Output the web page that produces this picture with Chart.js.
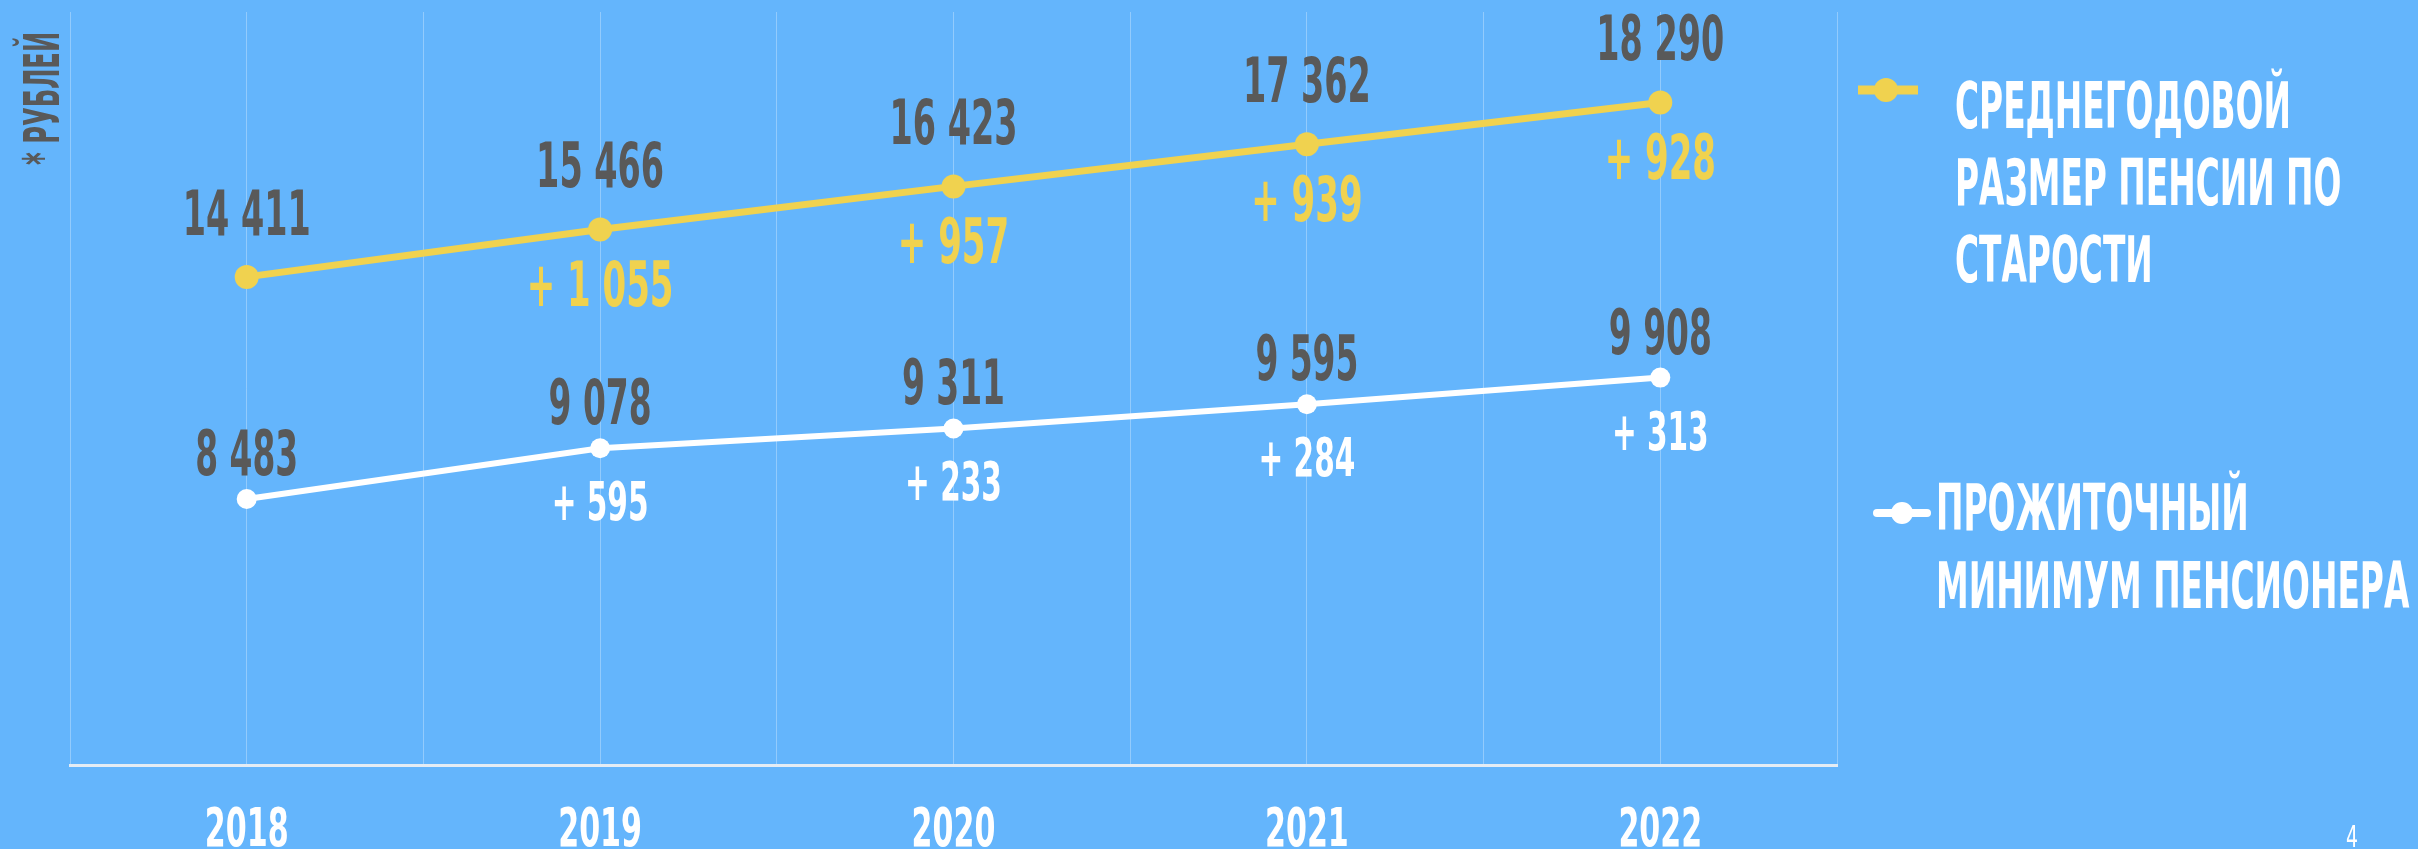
<!DOCTYPE html>
<html lang="ru">
<head>
    <meta charset="UTF-8">
    <title>Пенсия и прожиточный минимум 2018-2022</title>
    <style>
        html, body {
            margin: 0;
            padding: 0;
            background: #64B5FC;
            overflow: hidden;
        }
        #chart-container {
            width: 2418px;
            height: 849px;
        }
    </style>
    <script src="https://cdn.jsdelivr.net/npm/chart.js"></script>
</head>
<body>
    <div id="chart-container">
        <canvas id="pensionChart" width="2418" height="849"></canvas>
    </div>

    <script>
        // Data
        const years = ['2018', '2019', '2020', '2021', '2022'];
        const pensionValues = [14411, 15466, 16423, 17362, 18290];
        const pensionChanges = [null, 1055, 957, 939, 928];
        const minimumValues = [8483, 9078, 9311, 9595, 9908];
        const minimumChanges = [null, 595, 233, 284, 313];
        const pensionLegend = ['СРЕДНЕГОДОВОЙ', 'РАЗМЕР ПЕНСИИ ПО', 'СТАРОСТИ'];
        const minimumLegend = ['ПРОЖИТОЧНЫЙ', 'МИНИМУМ ПЕНСИОНЕРА'];
        const unitLabel = '* РУБЛЕЙ';
        const pageNumber = '4';

        const YELLOW = '#F0D24F';
        const WHITE = '#FFFFFF';
        const GREY = '#595959';
        const BG = '#64B5FC';
        const FONT = '"DejaVu Sans Condensed", sans-serif';

        // 14411 -> "14 411"
        function fmt(v) {
            return String(v).replace(/\B(?=(\d{3})+(?!\d))/g, ' ');
        }

        // condensed text: squeeze the font horizontally to look like the slide's display face
        function text(ctx, str, x, y, size, color, sx, align, weight) {
            ctx.save();
            ctx.translate(x, y);
            ctx.scale(sx, 1);
            ctx.font = (weight || 'bold') + ' ' + size + 'px ' + FONT;
            ctx.fillStyle = color;
            ctx.textAlign = align || 'center';
            ctx.textBaseline = 'alphabetic';
            ctx.fillText(str, 0, 0);
            ctx.restore();
        }

        const background = {
            id: 'background',
            beforeDraw(chart) {
                const ctx = chart.ctx;
                ctx.save();
                ctx.fillStyle = BG;
                ctx.fillRect(0, 0, chart.width, chart.height);
                ctx.restore();
            }
        };

        // value labels above the points, growth labels below
        const pointLabels = {
            id: 'pointLabels',
            afterDatasetsDraw(chart) {
                const ctx = chart.ctx;
                const yellowPts = chart.getDatasetMeta(0).data;
                const whitePts = chart.getDatasetMeta(1).data;

                yellowPts.forEach((p, i) => {
                    text(ctx, fmt(pensionValues[i]), p.x, p.y - 42, 63, GREY, 0.59);
                    if (pensionChanges[i] !== null) {
                        text(ctx, '+ ' + fmt(pensionChanges[i]), p.x, p.y + 77, 63, YELLOW, 0.6);
                    }
                });
                whitePts.forEach((p, i) => {
                    text(ctx, fmt(minimumValues[i]), p.x, p.y - 24, 62, GREY, 0.59);
                    if (minimumChanges[i] !== null) {
                        text(ctx, '+ ' + fmt(minimumChanges[i]), p.x, p.y + 72, 53, WHITE, 0.62);
                    }
                });
            }
        };

        // year labels under the axis, legend on the right, unit title, page number
        const decorations = {
            id: 'decorations',
            afterDraw(chart) {
                const ctx = chart.ctx;
                const xScale = chart.scales.x;

                xScale.getLabels().forEach((lbl, i) => {
                    text(ctx, lbl, xScale.getPixelForValue(i), chart.chartArea.bottom + 81, 54, WHITE, 0.62);
                });

                // yellow legend marker
                ctx.save();
                ctx.strokeStyle = YELLOW;
                ctx.lineWidth = 9;
                ctx.lineCap = 'butt';
                ctx.beginPath();
                ctx.moveTo(1858, 90);
                ctx.lineTo(1918, 90);
                ctx.stroke();
                ctx.fillStyle = YELLOW;
                ctx.beginPath();
                ctx.arc(1886, 90, 12, 0, Math.PI * 2);
                ctx.fill();

                // white legend marker
                ctx.strokeStyle = WHITE;
                ctx.lineWidth = 8;
                ctx.lineCap = 'round';
                ctx.beginPath();
                ctx.moveTo(1877, 513);
                ctx.lineTo(1927, 513);
                ctx.stroke();
                ctx.fillStyle = WHITE;
                ctx.beginPath();
                ctx.arc(1902, 513, 11, 0, Math.PI * 2);
                ctx.fill();
                ctx.restore();

                pensionLegend.forEach((line, i) => {
                    text(ctx, line, 1955, 128 + i * 77, 64, WHITE, 0.57, 'left');
                });
                minimumLegend.forEach((line, i) => {
                    text(ctx, line, 1936, 530 + i * 78, 64, WHITE, 0.57, 'left');
                });

                // rotated unit label
                ctx.save();
                ctx.translate(59, 165);
                ctx.rotate(-Math.PI / 2);
                text(ctx, unitLabel, 0, 0, 50, GREY, 0.54, 'left');
                ctx.restore();

                text(ctx, pageNumber, 2352, 847, 30, WHITE, 0.7, 'center', 'normal');
            }
        };

        const ctx = document.getElementById('pensionChart').getContext('2d');
        const pensionChart = new Chart(ctx, {
            type: 'line',
            data: {
                labels: years,
                datasets: [{
                    label: pensionLegend.join(' '),
                    data: pensionValues,
                    yAxisID: 'y',
                    borderColor: YELLOW,
                    backgroundColor: YELLOW,
                    borderWidth: 7,
                    pointRadius: 12,
                    pointBorderWidth: 0,
                    pointBackgroundColor: YELLOW,
                    tension: 0,
                    clip: false
                }, {
                    label: minimumLegend.join(' '),
                    data: minimumValues,
                    yAxisID: 'y2',
                    borderColor: WHITE,
                    backgroundColor: WHITE,
                    borderWidth: 6,
                    pointRadius: 10,
                    pointBorderWidth: 0,
                    pointBackgroundColor: WHITE,
                    tension: 0,
                    clip: false
                }]
            },
            options: {
                responsive: false,
                animation: false,
                layout: {
                    padding: { left: 70, right: 581, top: 10, bottom: 84 }
                },
                plugins: {
                    legend: { display: false },
                    tooltip: { enabled: false }
                },
                scales: {
                    x: {
                        offset: true,
                        grid: {
                            offset: true,
                            color: 'rgba(255,255,255,0.3)',
                            lineWidth: 1,
                            drawTicks: false
                        },
                        border: { display: true, color: '#E4ECF4', width: 3 },
                        ticks: { display: false }
                    },
                    // second category axis only for the lines through each year
                    x2: {
                        type: 'category',
                        labels: years,
                        position: 'top',
                        offset: true,
                        grid: {
                            offset: false,
                            color: 'rgba(255,255,255,0.3)',
                            lineWidth: 1,
                            drawTicks: false
                        },
                        border: { display: false },
                        ticks: { display: false }
                    },
                    y: {
                        display: false,
                        min: 3560,
                        max: 20300
                    },
                    y2: {
                        display: false,
                        min: 5360,
                        max: 14200
                    }
                }
            },
            plugins: [background, pointLabels, decorations]
        });
    </script>
</body>
</html>
